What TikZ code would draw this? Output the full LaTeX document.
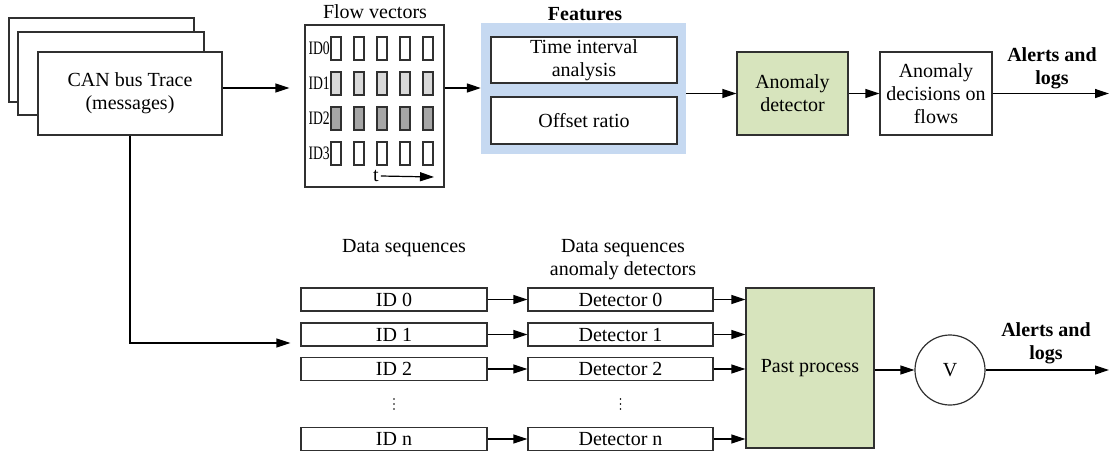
\documentclass[tikz,border=0pt]{standalone}
\usepackage{fontspec}
\setmainfont{Liberation Serif}
\usetikzlibrary{arrows.meta}

\definecolor{featblue}{HTML}{C6D9F1}
\definecolor{procgreen}{HTML}{D7E4BD}
\definecolor{lightbar}{HTML}{D9D9D9}
\definecolor{darkbar}{HTML}{A6A6A6}
\definecolor{edgegray}{HTML}{303030}

\begin{document}
\begin{tikzpicture}[x=1pt,y=-1pt,
  font=\fontsize{20}{23}\selectfont,
  box/.style={draw=edgegray, line width=1.2pt, fill=white, inner sep=0pt,
    align=center, minimum width=#1},
  box/.default=186pt,
  procbox/.style={box=#1, fill=procgreen},
  bar/.style={draw=edgegray, line width=1.1pt, minimum width=10pt,
    minimum height=23pt, inner sep=0pt},
  idlabel/.style={anchor=east, inner sep=0pt, font=\fontsize{19}{19}\selectfont},
  arr/.style={-{Triangle[length=14pt,width=9pt]}, line width=1.2pt, draw=black},
  title/.style={inner sep=0pt, align=center},
  bold/.style={inner sep=0pt, align=center, font=\fontsize{20}{23}\selectfont\bfseries},
  dot/.style={circle, fill=black, inner sep=0pt, minimum size=1.8pt}
]
\useasboundingbox (0,0) rectangle (1109,453);

% ---- stacked trace sheets ----
\node[box=185pt, minimum height=84pt] (sheet3) at (101.5,60) {};
\node[box=186pt, minimum height=83pt] (sheet2) at (111,73.5) {};
\node[box=184pt, minimum height=83pt] (can) at (130,93.5) {CAN bus Trace\\(messages)};

% ---- flow vectors panel ----
\node[title] (flowtitle) at (375,12) {Flow vectors};
\node[box=139pt, minimum height=162pt] (flow) at (374.5,106) {};
\foreach \r/\lab/\col in {0/ID0/white, 1/ID1/lightbar, 2/ID2/darkbar, 3/ID3/white} {
  \node[idlabel] (lab\r) at (330,48.5+35*\r) {\scalebox{0.72}[1]{\lab}};
  \foreach \c in {0,...,4} {
    \node[bar, fill=\col] (bar\r\c) at (336+23*\c,48.5+35*\r) {};
  }
}
\node[inner sep=0pt] (tlab) at (376,176) {t};
\coordinate (tend) at (434,177);
\draw[arr] (tlab.east) ++(2pt,0) -- (tend);

% ---- feature extraction ----
\node[fill=featblue, minimum width=205pt, minimum height=131pt, inner sep=0pt] (feat) at (583.5,88.5) {};
\node[bold] (feattitle) at (585,14) {Features};
\node[box, minimum height=46pt] (tia) at (584,60) {Time interval\\analysis};
\node[box, minimum height=47pt] (offset) at (584,120.5) {Offset ratio};

% ---- detection chain ----
\node[procbox=111pt, minimum height=83pt] (det) at (792.5,93.5) {Anomaly\\detector};
\node[box=112pt, minimum height=83pt] (dec) at (936,93.5) {Anomaly\\decisions on\\flows};
\node[bold] (alerts1) at (1052,68) {Alerts and\\logs};
\coordinate (out1) at (1109,93.5);

\draw[arr, shorten >=15pt] ([yshift=5.5pt]can.east) -- ([yshift=5.5pt]can.east -| flow.west);
\draw[arr] ([yshift=18pt]flow.east) -- ([yshift=18pt]flow.east -| feat.west);
\draw[arr] (feat.east |- det.west) -- (det.west);
\draw[arr] (det.east) -- (dec.west);
\draw[arr] (dec.east) -- (out1);

% ---- per-ID data sequences ----
\node[title] (dslabel) at (404,248) {Data sequences};
\node[title] (adlabel) at (623,259.5) {Data sequences\\anomaly detectors};

\foreach \k/\y/\t in {0/299.5/0, 1/334.5/1, 2/369/2, n/439/n} {
  \node[box, minimum height=23pt] (id\k) at (394,\y) {ID \t};
  \node[box=185pt, minimum height=23pt] (det\k) at (620.5,\y) {Detector \t};
  \draw[arr] (id\k.east) -- (det\k.west);
}
% vertical ellipses between the listed rows and the last one
\foreach \x in {394,620.5} {
  \foreach \yy in {399,404,409} {
    \node[dot] at (\x,\yy) {};
  }
}

\node[procbox=128pt, minimum height=160pt] (past) at (810,368) {Past process};
\foreach \k in {0,1,2,n} {
  \draw[arr] (det\k.east) -- (det\k.east -| past.west);
}

\node[draw=edgegray, line width=1.2pt, circle, minimum size=70pt, inner sep=0pt] (vote) at (950,370) {V};
\node[bold] (alerts2) at (1046,343.5) {Alerts and\\logs};
\coordinate (out2) at (1109,370);

\draw[arr] (past.east |- vote.west) -- (vote.west);
\draw[arr] (vote.east) -- (out2);

% ---- trace feed into the per-ID branch ----
\draw[arr, shorten >=10pt] (can.south) |- ([yshift=-8.5pt]id1.west);
\end{tikzpicture}
\end{document}
